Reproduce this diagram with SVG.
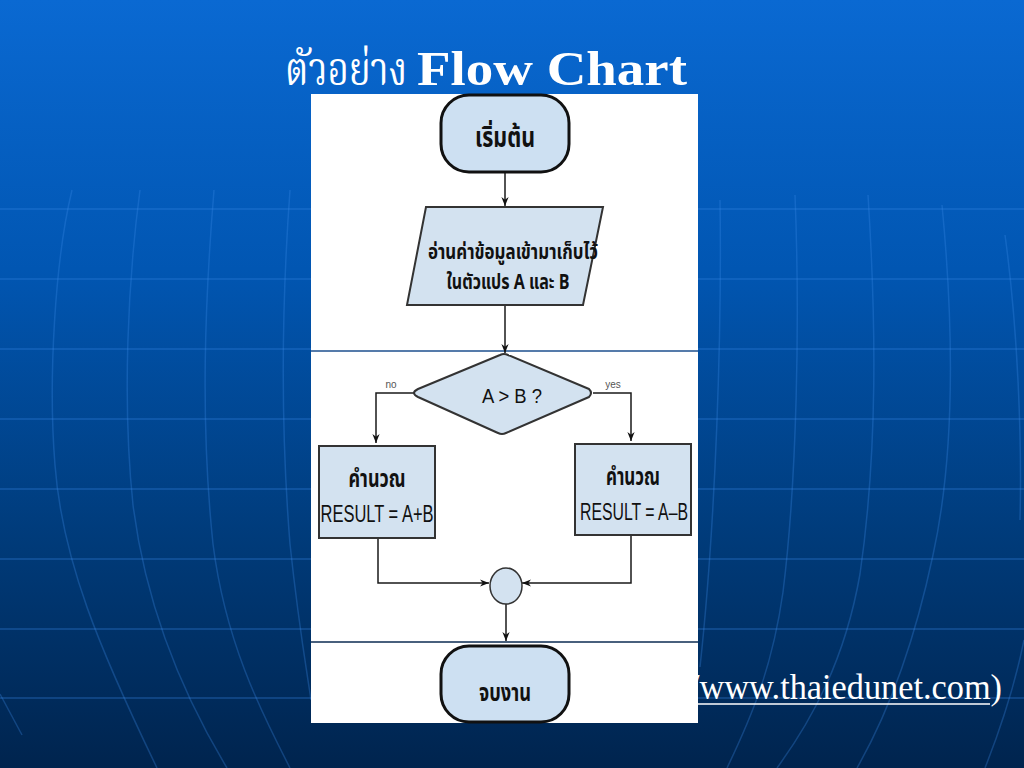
<svg xmlns="http://www.w3.org/2000/svg" width="1024" height="768" viewBox="0 0 1024 768">
<defs>
<linearGradient id="bg" x1="0" y1="0" x2="0" y2="1">
<stop offset="0" stop-color="#0a69d2"/>
<stop offset="0.35" stop-color="#0156b2"/>
<stop offset="0.7" stop-color="#003b7a"/>
<stop offset="1" stop-color="#00244e"/>
</linearGradient>
<marker id="ah" viewBox="0 0 10 10" refX="10" refY="5" markerWidth="9" markerHeight="9" markerUnits="userSpaceOnUse" orient="auto">
<path d="M0,1 L10,5 L0,9 L3,5 Z" fill="#111"/>
</marker>
<style>
.grid{fill:none;stroke:#3486e6;stroke-opacity:0.38;stroke-width:1.5}
.mer{fill:none;stroke:#3a8ae8;stroke-opacity:0.3;stroke-width:1.5}
.shape{fill:#d3e2f0;stroke:#333;stroke-width:2}
.term{fill:#cde0f2;stroke:#111;stroke-width:3}
.conn{fill:none;stroke:#1a1a1a;stroke-width:1.5;marker-end:url(#ah)}
.th{font-family:"Noto Sans Thai","Noto Sans Thai UI","Loma","Garuda","Tlwg Typo","DejaVu Sans",sans-serif;font-weight:bold;fill:#111;text-anchor:middle}
.lat{font-family:"Liberation Sans Narrow","Liberation Sans",Arial,sans-serif;fill:#111;text-anchor:middle}
.small{font-family:"Liberation Sans",Arial,sans-serif;font-size:10px;fill:#555;text-anchor:middle}
</style>
</defs>
<rect width="1024" height="768" fill="url(#bg)"/>
<g id="background-lines">
<path class="grid" d="M0,209H1024M0,279H1024M0,349H1024M0,419H1024M0,489H1024"/>
<path class="grid" stroke-opacity="0.22" d="M0,559H1024M0,629H1024M0,698H1024"/>
<path class="mer" d="M72,190 C55,260 48,380 55,465 C62,560 100,650 157,768"/>
<path class="mer" d="M140,190 C128,280 122,400 133,505 C145,600 180,690 227,768"/>
<path class="mer" d="M214,190 C205,300 200,420 213,544 C225,640 260,710 290,768"/>
<path class="mer" d="M290,190 C282,300 280,420 290,544 C298,620 305,660 311,700"/>
<path class="mer" d="M0,694 L22,735"/>
<path class="mer" d="M720,200 C722,330 716,520 700,667"/>
<path class="mer" d="M795,195 C800,320 797,480 783,592 C772,670 750,720 727,768"/>
<path class="mer" d="M868,195 C876,320 878,450 860,574 C845,660 812,720 777,768"/>
<path class="mer" d="M942,205 C953,320 956,450 933,555 C915,640 890,710 857,768"/>
<path class="mer" d="M1005,235 C1018,330 1022,440 1020,520"/>
<path class="mer" d="M1024,640 C1016,680 1000,730 985,768"/>
</g>
<g id="title">
<text x="346" y="85" font-family="'Noto Serif Thai','Noto Sans Thai','Loma','Garuda',serif" font-size="46" fill="#fff" text-anchor="middle" textLength="122" lengthAdjust="spacingAndGlyphs">ตัวอย่าง</text>
<text x="417" y="85" font-family="'Liberation Serif','Times New Roman',serif" font-weight="bold" font-size="48" fill="#fff" textLength="270" lengthAdjust="spacingAndGlyphs">Flow Chart</text>
</g>
<g id="link">
<text x="690" y="699" font-family="'Liberation Serif','Times New Roman',serif" font-size="35" fill="#fff" textLength="312" lengthAdjust="spacingAndGlyphs">/www.thaiedunet.com)</text>
<line x1="698" y1="704" x2="990" y2="704" stroke="#fff" stroke-width="1.5"/>
</g>
<g id="canvas">
<rect x="311" y="94" width="387" height="629" fill="#fff"/>
<line x1="311" y1="351" x2="698" y2="351" stroke="#1d4f8e" stroke-width="1.5"/>
<line x1="311" y1="642" x2="698" y2="642" stroke="#0b2b52" stroke-width="1.5"/>
</g>
<g id="connectors">
<path class="conn" d="M505,172 V206"/>
<path class="conn" d="M505,306 V353"/>
<path class="conn" d="M414,393 H376 V443"/>
<path class="conn" d="M593,393 H631 V441"/>
<path class="conn" d="M378,538 V583 H489"/>
<path class="conn" d="M631,535 V583 H522"/>
<path class="conn" d="M506,604 V641"/>
</g>
<g id="start">
<rect class="term" x="441" y="95" width="128" height="77" rx="28" ry="28"/>
<text class="th" x="505" y="147" font-size="28" textLength="60" lengthAdjust="spacingAndGlyphs">เริ่มต้น</text>
</g>
<g id="input">
<path class="shape" d="M426,207 H603 L583,305 H407 Z"/>
<text class="th" font-size="22"><tspan x="513" y="259" textLength="170" lengthAdjust="spacingAndGlyphs">อ่านค่าข้อมูลเข้ามาเก็บไว้</tspan><tspan x="508" y="289" textLength="123" lengthAdjust="spacingAndGlyphs">ในตัวแปร A และ B</tspan></text>
</g>
<g id="decision">
<path class="shape" stroke-linejoin="round" d="M414,393 Q414,391 418,389 L500,355 Q504,353 508,355 L589,389 Q593,393 589,397 L506,433 Q502,435 498,433 L418,397 Q414,395 414,393 Z"/>
<text class="lat" x="512" y="403" font-size="20" textLength="60" lengthAdjust="spacingAndGlyphs">A &gt; B ?</text>
<text class="small" x="391" y="388">no</text>
<text class="small" x="613" y="388">yes</text>
</g>
<g id="calc-add">
<rect class="shape" x="319" y="446" width="116" height="92"/>
<text class="th" x="377" y="487" font-size="24" textLength="57" lengthAdjust="spacingAndGlyphs">คำนวณ</text>
<text class="lat" x="377" y="522" font-size="24" textLength="113" lengthAdjust="spacingAndGlyphs">RESULT = A+B</text>
</g>
<g id="calc-sub">
<rect class="shape" x="575" y="444" width="116" height="91"/>
<text class="th" x="633" y="485" font-size="24" textLength="54" lengthAdjust="spacingAndGlyphs">คำนวณ</text>
<text class="lat" x="634" y="520" font-size="24" textLength="108" lengthAdjust="spacingAndGlyphs">RESULT = A–B</text>
</g>
<g id="join">
<ellipse cx="506" cy="586" rx="16" ry="18" fill="#d3e2f0" stroke="#333" stroke-width="1.5"/>
</g>
<g id="end">
<rect class="term" x="441" y="646" width="128" height="76" rx="28" ry="28"/>
<text class="th" x="505" y="701" font-size="24" textLength="52" lengthAdjust="spacingAndGlyphs">จบงาน</text>
</g>
</svg>
